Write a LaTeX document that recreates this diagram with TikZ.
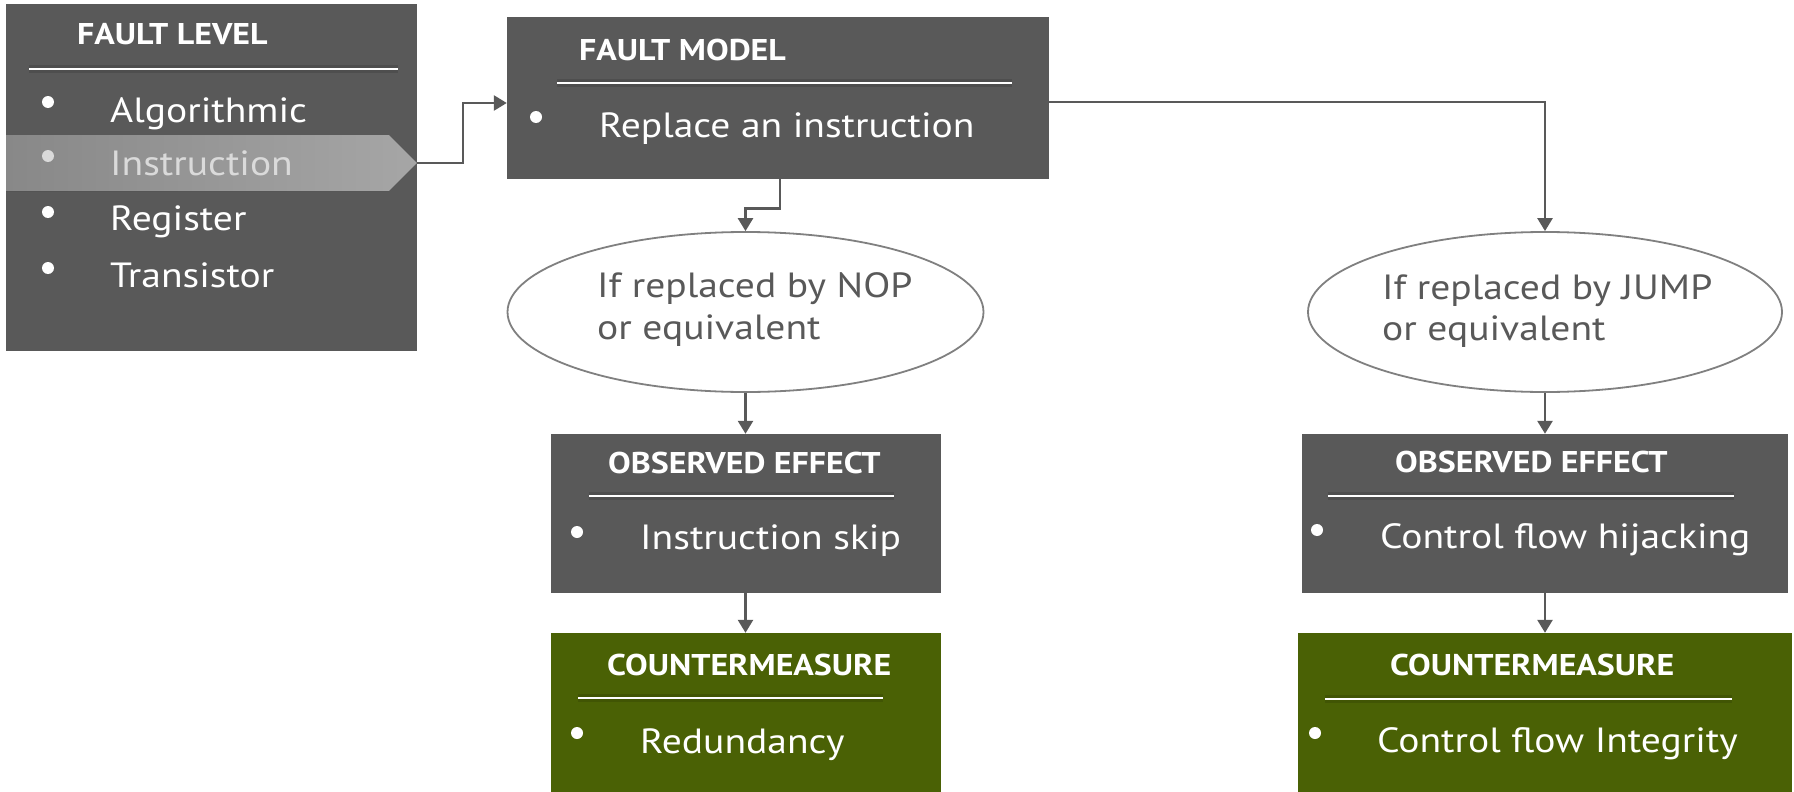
\documentclass[tikz,border=0pt]{standalone}
\usepackage{fontspec}
\setmainfont{PT Sans}[FakeStretch=1.13]
\usetikzlibrary{arrows.meta,shapes.geometric,calc}
\definecolor{boxgray}{RGB}{89,89,89}
\definecolor{cmgreen}{RGB}{74,97,5}
\definecolor{ellgray}{RGB}{128,128,128}
\definecolor{hlL}{RGB}{136,136,136}
\definecolor{hlR}{RGB}{166,166,166}
\definecolor{hltext}{RGB}{218,218,218}
\begin{document}
\begin{tikzpicture}[x=1pt,y=-1pt,
  box/.style={draw=none, fill=boxgray, rectangle, inner sep=0pt},
  cmbox/.style={box, fill=cmgreen},
  oval/.style={ellipse, draw=ellgray, line width=1.8pt, fill=white, inner sep=0pt},
  conn/.style={draw=boxgray, line width=2.6pt, -{Triangle[length=13pt,width=15pt]}},
  title/.style={anchor=base west, text=white, font=\bfseries\fontsize{30}{36}\selectfont, inner sep=0pt},
  body/.style={anchor=base west, text=white, font=\fontsize{35}{42}\selectfont, inner sep=0pt},
  otext/.style={body, text=boxgray},
  bul/.style={circle, fill=white, minimum size=12pt, inner sep=0pt},
  sep/.style={draw=white, line width=2.2pt, preaction={draw=black, opacity=0.12, line width=8pt}},
]
\useasboundingbox (0,0) rectangle (1794,792);

% ---------- boxes ----------
\node[box, minimum width=411pt, minimum height=347pt] (fl) at (211.5,177.5) {};
\node[box, minimum width=542pt, minimum height=162pt] (fm) at (778,98) {};
\node[oval, minimum width=476pt, minimum height=160pt] (nop) at (745.5,312) {};
\node[oval, minimum width=474pt, minimum height=160pt] (jump) at (1545,312) {};
\node[box, minimum width=390pt, minimum height=159pt] (oe1) at (745.5,513.5) {};
\node[box, minimum width=486pt, minimum height=159pt] (oe2) at (1545,513.5) {};
\node[cmbox, minimum width=390pt, minimum height=159pt] (cm1) at (745.5,712.5) {};
\node[cmbox, minimum width=494pt, minimum height=159pt] (cm2) at (1545,712.5) {};

% ---------- fault level ----------
\node[title] (flT) at (77,45) {FAULT LEVEL};
\draw[sep] (29,69) -- (398,69);
\fill[left color=hlL, right color=hlR] (6,135) -- (389,135) -- (417,163) -- (389,191) -- (6,191) -- cycle;
\coordinate (hltip) at (417,163);
\node[bul] (flb1) at (48,102) {};
\node[bul, fill=hltext] (flb2) at (48,156) {};
\node[bul] (flb3) at (48,212) {};
\node[bul] (flb4) at (48,268) {};
\node[body] (fl1) at (110,122) {Algorithmic};
\node[body, text=hltext] (fl2) at (110,175) {Instruction};
\node[body] (fl3) at (110,230) {Register};
\node[body] (fl4) at (110,287) {Transistor};

% ---------- fault model ----------
\node[title] (fmT) at (579,60) {FAULT MODEL};
\draw[sep] (557,83) -- (1012,83);
\node[bul] (fmb) at (536,117) {};
\node[body] (fm1) at (599,137) {Replace an instruction};

% ---------- ellipses ----------
\node[otext] (nop1) at (597,297) {If replaced by NOP};
\node[otext] (nop2) at (597,339) {or equivalent};
\node[otext] (jump1) at (1382,299) {If replaced by JUMP};
\node[otext] (jump2) at (1382,340) {or equivalent};

% ---------- observed effect ----------
\node[title] (oe1T) at (608,473) {OBSERVED EFFECT};
\draw[sep] (589,496) -- (894,496);
\node[bul] (oe1b) at (577,532) {};
\node[body] (oe1t) at (640,549) {Instruction skip};

\node[title] (oe2T) at (1395,472) {OBSERVED EFFECT};
\draw[sep] (1328,496) -- (1734,496);
\node[bul] (oe2b) at (1317,530) {};
\node[body] (oe2t) at (1380,548) {Control flow hijacking};

% ---------- countermeasure ----------
\node[title] (cm1T) at (607,675) {COUNTERMEASURE};
\draw[sep] (578,698) -- (883,698);
\node[bul] (cm1b) at (577,733) {};
\node[body] (cm1t) at (640,753) {Redundancy};

\node[title] (cm2T) at (1390,675) {COUNTERMEASURE};
\draw[sep] (1325,699) -- (1732,699);
\node[bul] (cm2b) at (1315,733) {};
\node[body] (cm2t) at (1377,752) {Control flow Integrity};

% ---------- connectors ----------
\draw[conn] (hltip) -- ++(46,0) |- ($(fm.west)+(0,5)$);
\draw[conn] ($(fm.south west)+(273,0)$) -- ++(0,29) -| (nop.north);
\draw[conn] ($(fm.east)+(0,4)$) -| (jump.north);
\draw[conn] (nop.south) -- (nop.south |- oe1.north);
\draw[conn] (jump.south) -- (jump.south |- oe2.north);
\draw[conn] (oe1.south) -- (oe1.south |- cm1.north);
\draw[conn] (oe2.south) -- (oe2.south |- cm2.north);
\end{tikzpicture}
\end{document}
